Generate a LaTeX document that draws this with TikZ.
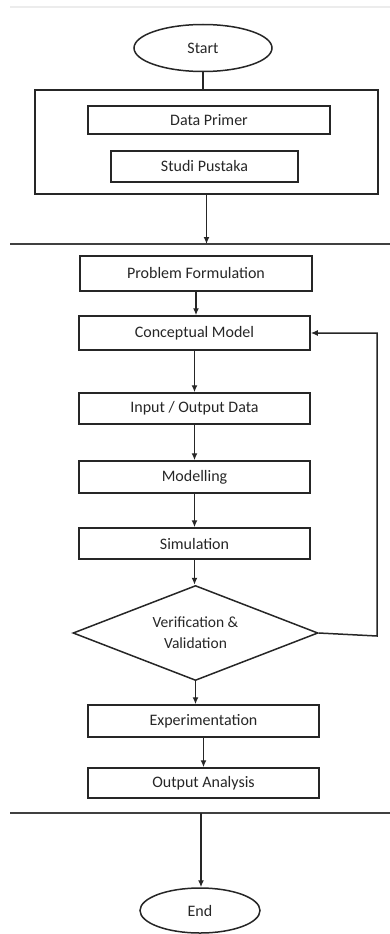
\documentclass[tikz,border=0pt]{standalone}
\usepackage{fontspec}
\setmainfont{Carlito}
\usetikzlibrary{shapes.geometric,arrows.meta}

\tikzset{
  stage/.style={draw=black!85, line width=1.5pt, inner sep=0pt, text=black!85,
    font=\fontsize{16}{18}\selectfont},
  terminal/.style={stage, ellipse},
  decision/.style={stage, diamond, aspect=2.6, align=center, font=\fontsize{15.5}{21}\selectfont},
  flow/.style={draw=black!85, line width=1.5pt, -{Latex[length=7pt,width=6pt]}},
  link/.style={draw=black!85, line width=1.5pt},
  divider/.style={draw=black!75, line width=1.5pt}
}

\begin{document}
\begin{tikzpicture}[x=1pt, y=-1pt]
    \useasboundingbox (0,0) rectangle (390,934);
    \draw[gray!15, line width=2pt] (10,7) -- (390,7);

    % data collection
    \node[terminal, minimum width=138pt, minimum height=47pt] (start) at (203,48) {Start};
    \node[stage, minimum width=343pt, minimum height=104pt] (collect) at (206.5,142) {};
    \node[stage, minimum width=242pt, minimum height=28pt] (primer) at (209,120) {Data Primer};
    \node[stage, minimum width=187pt, minimum height=31pt] (pustaka) at (204.5,166.5) {Studi Pustaka};

    \coordinate (sepAl) at (10,244);
    \coordinate (sepAr) at (390,244);
    \draw[divider] (sepAl) -- (sepAr);
    \draw[link] (start.south) -- (start.south |- collect.north);
    \draw[flow] (collect.south) -- (collect.south |- sepAl);

    % simulation study
    \node[stage, minimum width=232pt, minimum height=35pt] (problem) at (196,273.5) {Problem Formulation};
    \node[stage, minimum width=231pt, minimum height=34pt] (concept) at (194.5,333) {Conceptual Model};
    \node[stage, minimum width=231pt, minimum height=31pt] (inout) at (194.5,408.5) {Input / Output Data};
    \node[stage, minimum width=231pt, minimum height=32pt] (modelling) at (194.5,477) {Modelling};
    \node[stage, minimum width=231pt, minimum height=31pt] (simulation) at (194.5,543.5) {Simulation};
    \node[decision, minimum width=245pt, minimum height=95pt] (verify) at (195.5,633) {Verification \&\\Validation};
    \node[stage, minimum width=231pt, minimum height=32pt] (experiment) at (203.5,721) {Experimentation};
    \node[stage, minimum width=231pt, minimum height=30pt] (analysis) at (203.5,783) {Output Analysis};

    \draw[flow] (problem.south) -- (problem.south |- concept.north);
    \draw[flow] (concept) -- (inout);
    \draw[flow] (inout) -- (modelling);
    \draw[flow] (modelling) -- (simulation);
    \draw[flow] (simulation.south) -- (simulation.south |- verify.north);
    \draw[flow] (verify.south) -- (verify.south |- experiment.north);
    \draw[flow] (experiment) -- (analysis);

    \coordinate (loop) at (377,636);
    \draw[flow] (verify.east) -- (loop) |- (concept.east);

    % end
    \coordinate (sepBl) at (10,813);
    \coordinate (sepBr) at (390,813);
    \coordinate (tail) at (201,813);
    \draw[divider] (sepBl) -- (sepBr);
    \node[terminal, minimum width=120pt, minimum height=45pt] (end) at (200,910.5) {End};
    \draw[flow] (tail) -- (tail |- end.north);
  \end{tikzpicture}
\end{document}
